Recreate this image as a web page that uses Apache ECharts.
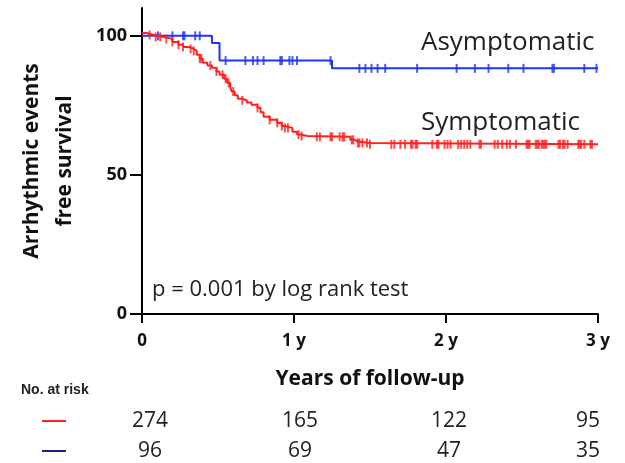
<!DOCTYPE html>
<html lang="en">
<head>
<meta charset="UTF-8">
<title>Arrhythmic events free survival</title>
<style>
  html, body {margin: 0; padding: 0; background: #fff}
  #chart {width: 625px; height: 463px}
</style>
<script src="https://cdn.jsdelivr.net/npm/echarts@6/dist/echarts.min.js"></script>
</head>
<body>
<div id="chart"></div>
<script>
// Kaplan-Meier steps: [years, % event free] (value after the drop)
const symptomaticSteps = [
  [0, 101], [0.03, 100.3], [0.08, 99.6], [0.14, 98.9], [0.20, 97.8], [0.24, 96.8],
  [0.27, 96.0], [0.31, 95.3], [0.34, 94.6], [0.36, 93.2], [0.38, 91.8], [0.40, 90.3],
  [0.43, 89.3], [0.46, 88.5], [0.49, 87.2], [0.51, 86.0], [0.54, 84.6], [0.56, 83.1],
  [0.58, 81.6], [0.59, 80.0], [0.61, 78.6], [0.63, 77.4], [0.66, 76.8], [0.69, 76.0],
  [0.72, 75.2], [0.76, 74.1], [0.78, 72.5], [0.80, 70.9], [0.84, 69.8], [0.89, 68.7],
  [0.92, 67.6], [0.94, 66.9], [0.99, 65.5], [1.02, 64.5], [1.04, 64.0], [1.09, 63.7],
  [1.37, 62.6], [1.40, 62.0], [1.42, 61.5], [1.50, 61.0], [3.0, 61.0]
];
const asymptomaticSteps = [
  [0, 100], [0.46, 97.4], [0.51, 91.1], [1.25, 88.3], [3.0, 88.3]
];

// censored follow-up times (years)
const symptomaticCensored = [
  0.05, 0.09, 0.12, 0.16, 0.20, 0.24, 0.27, 0.32, 0.34, 0.38, 0.39, 0.45, 0.49, 0.53,
  0.55, 0.57, 0.60, 0.66, 0.76, 0.84, 0.89, 0.92, 0.94, 0.96, 1.03, 1.05, 1.15, 1.17,
  1.24, 1.25, 1.30, 1.32, 1.33, 1.38, 1.39, 1.42, 1.43, 1.45, 1.48, 1.50, 1.64, 1.66,
  1.70, 1.73, 1.77, 1.78, 1.80, 1.81, 1.91, 1.94, 1.95, 1.99, 2.01, 2.03, 2.08, 2.10,
  2.12, 2.14, 2.16, 2.22, 2.23, 2.32, 2.34, 2.37, 2.40, 2.42, 2.46, 2.53, 2.54, 2.55,
  2.59, 2.60, 2.61, 2.63, 2.64, 2.65, 2.66, 2.74, 2.75, 2.77, 2.78, 2.80, 2.87, 2.88,
  2.89, 2.91, 2.95, 2.96
];
const asymptomaticCensored = [
  0.105, 0.20, 0.27, 0.28, 0.35, 0.38, 0.55, 0.68, 0.73, 0.76, 0.80, 0.91, 0.92, 0.97,
  0.99, 1.02, 1.24, 1.43, 1.47, 1.51, 1.55, 1.60, 1.81, 2.07, 2.19, 2.28, 2.41, 2.51,
  2.70, 2.71, 2.91, 2.99
];

const xTickLabels = ['0', '1 y', '2 y', '3 y'];
const yTickValues = [0, 50, 100];
const riskSymptomatic = [274, 165, 122, 95];
const riskAsymptomatic = [96, 69, 47, 35];

const RED = '#ff2020';
const BLUE = '#1f35f5';
const NAVY = '#1c1c8a';
const FONT = 'Open Sans';

function survivalAt(steps, t) {
  let s = steps[0][1];
  for (const p of steps) {
    if (p[0] <= t) s = p[1]; else break;
  }
  return s;
}

const chart = echarts.init(document.getElementById('chart'));

const riskX = [150, 300, 449, 588];
const graphics = [
  {type: 'text', left: 421, top: 30, style: {text: 'Asymptomatic', font: '26px ' + FONT, fill: '#222'}},
  {type: 'text', left: 421, top: 110, style: {text: 'Symptomatic', font: '26px ' + FONT, fill: '#222'}},
  {type: 'text', left: 152, top: 279, style: {text: 'p = 0.001 by log rank test', font: '22px ' + FONT, fill: '#222'}},
  {type: 'text', left: 21, top: 383, style: {text: 'No. at risk', font: 'bold 14px Liberation Sans', fill: '#222'}},
  {type: 'line', shape: {x1: 42, y1: 421, x2: 66, y2: 421}, style: {stroke: RED, lineWidth: 2}},
  {type: 'line', shape: {x1: 42, y1: 451, x2: 66, y2: 451}, style: {stroke: NAVY, lineWidth: 2}}
];
riskSymptomatic.forEach((n, i) => {
  graphics.push({type: 'text', x: riskX[i], y: 421,
    style: {text: String(n), font: '21px ' + FONT, fill: '#222', textAlign: 'center', textVerticalAlign: 'middle'}});
});
riskAsymptomatic.forEach((n, i) => {
  graphics.push({type: 'text', x: riskX[i], y: 451,
    style: {text: String(n), font: '21px ' + FONT, fill: '#222', textAlign: 'center', textVerticalAlign: 'middle'}});
});

const option = {
  animation: false,
  grid: {left: 142, right: 27, top: 8, bottom: 149},
  xAxis: {
    type: 'value', min: 0, max: 3, interval: 1,
    name: 'Years of follow-up', nameLocation: 'middle', nameGap: 55,
    nameTextStyle: {fontFamily: FONT, fontWeight: 'bold', fontSize: 21, color: '#111'},
    axisLine: {lineStyle: {color: '#000', width: 2}},
    axisTick: {length: 9, lineStyle: {color: '#000', width: 2}},
    axisLabel: {formatter: v => xTickLabels[v], fontFamily: FONT, fontWeight: 'bold', fontSize: 17, color: '#111', margin: 19},
    splitLine: {show: false}
  },
  yAxis: {
    type: 'value', min: 0, max: 110, interval: 50,
    name: 'Arrhythmic events\nfree survival', nameLocation: 'middle', nameGap: 60,
    nameTextStyle: {fontFamily: FONT, fontWeight: 'bold', fontSize: 21, lineHeight: 33, color: '#111'},
    axisLine: {show: true, lineStyle: {color: '#000', width: 2}},
    axisTick: {show: true, length: 12, customValues: yTickValues, lineStyle: {color: '#000', width: 2}},
    axisLabel: {customValues: yTickValues, fontFamily: FONT, fontWeight: 'bold', fontSize: 18, color: '#111', margin: 15},
    splitLine: {show: false}
  },
  graphic: graphics,
  series: [
    {
      name: 'Asymptomatic', type: 'line', step: 'end', data: asymptomaticSteps,
      showSymbol: false, lineStyle: {color: BLUE, width: 2}, z: 3
    },
    {
      name: 'Symptomatic', type: 'line', step: 'end', data: symptomaticSteps,
      showSymbol: false, lineStyle: {color: RED, width: 2}, z: 4
    },
    {
      type: 'scatter', symbol: 'rect', symbolSize: [2, 9],
      data: asymptomaticCensored.map(t => [t, survivalAt(asymptomaticSteps, t)]),
      itemStyle: {color: BLUE}, z: 3
    },
    {
      type: 'scatter', symbol: 'rect', symbolSize: [2, 9],
      data: symptomaticCensored.map(t => [t, survivalAt(symptomaticSteps, t)]),
      itemStyle: {color: RED}, z: 4
    }
  ]
};
chart.setOption(option);
</script>
</body>
</html>
